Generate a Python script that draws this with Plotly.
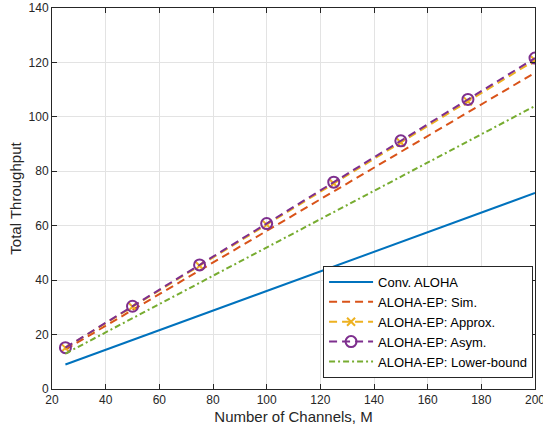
import plotly.graph_objects as go

M = [25, 50, 75, 100, 125, 150, 175, 200]
conv_aloha = [9.0, 18.0, 27.0, 36.0, 45.0, 54.0, 63.0, 72.0]
ep_sim = [14.5, 29.0, 43.6, 58.1, 72.6, 87.2, 101.7, 116.2]
ep_approx = [15.1, 30.2, 45.3, 60.4, 75.5, 90.6, 105.7, 120.8]
ep_asym = [15.2, 30.4, 45.6, 60.8, 76.0, 91.2, 106.4, 121.6]
ep_lower = [13.0, 26.0, 39.0, 52.0, 65.0, 78.0, 91.0, 104.0]

x_ticks = [20, 40, 60, 80, 100, 120, 140, 160, 180, 200]
y_ticks = [0, 20, 40, 60, 80, 100, 120, 140]

FONT = "Liberation Sans, Arial, Helvetica, sans-serif"
fig = go.Figure()
fig.add_trace(go.Scatter(x=M, y=conv_aloha, mode="lines", name="Conv. ALOHA",
                         line=dict(color="#0072BD", width=2)))
fig.add_trace(go.Scatter(x=M, y=ep_sim, mode="lines", name="ALOHA-EP: Sim.",
                         line=dict(color="#D95319", width=2, dash="8px,5px")))
fig.add_trace(go.Scatter(x=M, y=ep_approx, mode="lines+markers", name="ALOHA-EP: Approx.",
                         line=dict(color="#EDB120", width=2, dash="8px,5px"),
                         marker=dict(symbol="x-thin", size=8, line=dict(color="#EDB120", width=2))))
fig.add_trace(go.Scatter(x=M, y=ep_asym, mode="lines+markers", name="ALOHA-EP: Asym.",
                         line=dict(color="#7E2F8E", width=2, dash="8px,5px"),
                         marker=dict(symbol="circle-open", size=11, line=dict(color="#7E2F8E", width=2))))
fig.add_trace(go.Scatter(x=M, y=ep_lower, mode="lines", name="ALOHA-EP: Lower-bound",
                         line=dict(color="#77AC30", width=2, dash="6px,3px,2px,3px")))

axis_common = dict(showline=True, linecolor="#262626", linewidth=1, mirror="ticks",
                   ticks="inside", ticklen=5, tickcolor="#262626", automargin=False,
                   showgrid=True, gridcolor="#E3E3E3", gridwidth=1, zeroline=False,
                   ticklabeloverflow="allow",
                   tickfont=dict(family=FONT, size=12, color="#262626"))
fig.update_xaxes(range=[20, 200], tickvals=x_ticks,
                 title=dict(text="Number of Channels, M", font=dict(family=FONT, size=15, color="#262626"), standoff=5),
                 **axis_common)
fig.update_yaxes(range=[0, 140], tickvals=y_ticks,
                 title=dict(text="Total Throughput", font=dict(family=FONT, size=15, color="#262626"), standoff=3),
                 **axis_common)

fig.update_layout(
    template="none",
    width=543, height=431,
    margin=dict(l=52, r=8, t=8, b=42, autoexpand=False),
    paper_bgcolor="white", plot_bgcolor="white",
    font=dict(family=FONT, color="#262626"),
    legend=dict(x=0.996, y=0.029, xanchor="right", yanchor="bottom",
                bgcolor="white", bordercolor="#262626", borderwidth=1,
                font=dict(family=FONT, size=13, color="#000000"),
                tracegroupgap=0, itemwidth=44),
    showlegend=True,
)
fig.write_html("out.html", config={"displayModeBar": False},
               post_script="document.body.style.margin='0';")
